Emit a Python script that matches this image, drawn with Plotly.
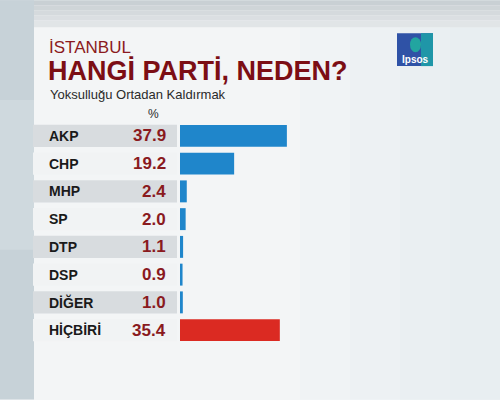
import plotly.graph_objects as go

parties = ["AKP", "CHP", "MHP", "SP", "DTP", "DSP", "DİĞER", "HİÇBİRİ"]
values = [37.9, 19.2, 2.4, 2.0, 1.1, 0.9, 1.0, 35.4]
value_labels = ["37.9", "19.2", "2.4", "2.0", "1.1", "0.9", "1.0", "35.4"]
bar_colors = ["#1f86cb"] * 7 + ["#db2a22"]

title_top = "İSTANBUL"
title_main = "HANGİ PARTİ, NEDEN?"
subtitle = "Yoksulluğu Ortadan Kaldırmak"

W, H = 500, 400
SCALE = 2.82          # px per percentage point
X0PX = 180            # pixel where bars start
TOP, PITCH = 122, 27.8
PLOT_H = PITCH * len(parties)
BOTTOM = H - TOP - PLOT_H


def px2x(px):
    return (px - X0PX) / SCALE


def py2p(py):
    return (TOP + PLOT_H - py) / PLOT_H


def px2p(px):
    return px / W


fig = go.Figure()
fig.add_trace(go.Bar(
    y=parties, x=values, orientation="h",
    marker=dict(color=bar_colors, line=dict(width=0)),
    width=0.79, hoverinfo="skip",
))

shapes = []


def bg(x0, x1, y0, y1, color, opacity=1.0):
    shapes.append(dict(type="rect", xref="paper", yref="paper", x0=px2p(x0), x1=px2p(x1),
                       y0=py2p(y1), y1=py2p(y0), fillcolor=color, opacity=opacity,
                       line_width=0, layer="below"))


# background regions
bg(0, W, 0, H, "#f3f5f6")
# soft gradient to the right
for k, c in enumerate(["#f0f3f5", "#edf1f3", "#eaeff2", "#e8eef1"]):
    bg(300 + k * 50, W, 27, H, c)
# top strip with gradient
for k, c in enumerate(["#c9d0d4", "#cfd5d8", "#d5dadd", "#dbdfe2", "#e1e5e7"]):
    bg(0, W, k * 5, k * 5 + 5 if k < 4 else 27, c)
# left strip
bg(0, 34, 0, H, "#c7d2d8")
bg(0, 34, 100, 250, "#cfd9de")

# alternating row bands
for i, p in enumerate(parties):
    shapes.append(dict(type="rect", xref="x", yref="y", x0=px2x(33), x1=px2x(177),
                       y0=i - 0.4, y1=i + 0.4,
                       fillcolor="#d8dcdf" if i % 2 == 0 else "#f1f3f4",
                       line_width=0, layer="below"))
# Ipsos logo
shapes.append(dict(type="rect", xref="paper", yref="paper", x0=px2p(397), x1=px2p(433),
                   y0=py2p(66), y1=py2p(33), fillcolor="#2f52a6", line_width=0))
shapes.append(dict(type="rect", xref="paper", yref="paper", x0=px2p(421), x1=px2p(433),
                   y0=py2p(66), y1=py2p(33), fillcolor="#1f96a8", line_width=0))
shapes.append(dict(type="circle", xref="paper", yref="paper", x0=px2p(410), x1=px2p(421),
                   y0=py2p(52), y1=py2p(37), fillcolor="#22a5a0", line_width=0))

annotations = []
for i, (p, v) in enumerate(zip(parties, value_labels)):
    annotations.append(dict(x=px2x(47), y=i, xref="x", yref="y", text=f"<b>{p}</b>",
                            showarrow=False, xanchor="left", yanchor="middle",
                            font=dict(family="Liberation Sans, Arial", size=14, color="#1a1a1a")))
    annotations.append(dict(x=px2x(168), y=i, xref="x", yref="y", text=f"<b>{v}</b>",
                            showarrow=False, xanchor="right", yanchor="middle",
                            font=dict(family="Liberation Sans, Arial", size=17, color="#8a1a1e")))

annotations += [
    dict(x=px2p(47), y=py2p(47), xref="paper", yref="paper", text=title_top, showarrow=False,
         xanchor="left", yanchor="middle",
         font=dict(family="Liberation Sans, Arial", size=17, color="#8b1a20")),
    dict(x=px2p(46), y=py2p(71), xref="paper", yref="paper", text=f"<b>{title_main}</b>",
         showarrow=False, xanchor="left", yanchor="middle",
         font=dict(family="Liberation Sans, Arial", size=27, color="#7c0e14")),
    dict(x=px2p(48), y=py2p(94), xref="paper", yref="paper", text=subtitle, showarrow=False,
         xanchor="left", yanchor="middle",
         font=dict(family="Liberation Sans, Arial", size=13, color="#2a2a2a")),
    dict(x=px2p(153), y=py2p(114), xref="paper", yref="paper", text="%", showarrow=False,
         xanchor="center", yanchor="middle",
         font=dict(family="Liberation Sans, Arial", size=12, color="#2a2a2a")),
    dict(x=px2p(415), y=py2p(59), xref="paper", yref="paper", text="<b>Ipsos</b>", showarrow=False,
         xanchor="center", yanchor="middle",
         font=dict(family="Liberation Sans, Arial", size=10, color="#ffffff")),
]

fig.update_layout(
    width=W, height=H,
    margin=dict(l=0, r=0, t=TOP, b=BOTTOM, pad=0),
    paper_bgcolor="#f3f5f6", plot_bgcolor="rgba(0,0,0,0)",
    showlegend=False,
    xaxis=dict(range=[px2x(0), px2x(W)], visible=False, fixedrange=True),
    yaxis=dict(range=[len(parties) - 0.5, -0.5], visible=False, fixedrange=True,
               categoryorder="array", categoryarray=parties),
    shapes=shapes, annotations=annotations,
)

fig.write_html("out.html")
